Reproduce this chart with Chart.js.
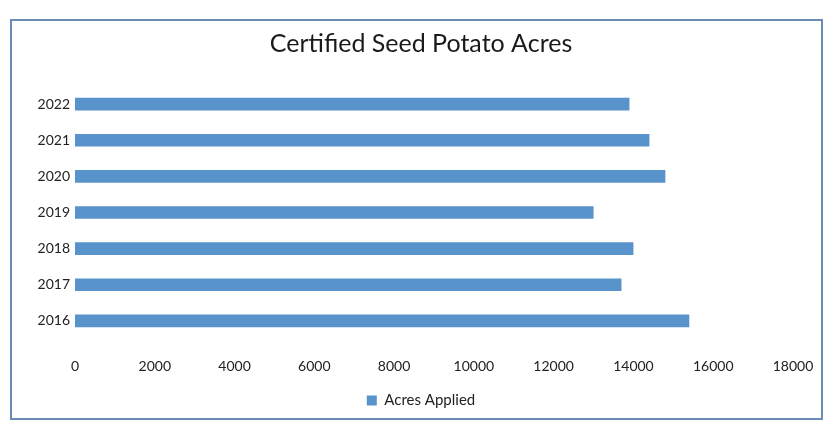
<!DOCTYPE html>
<html>
<head>
<meta charset="utf-8">
<script src="https://cdn.jsdelivr.net/npm/chart.js@4"></script>
<style>
  body { margin: 0; background: #fff; }
  #wrap { position: relative; width: 832px; height: 427px; }
  #frame { position: absolute; left: 10px; top: 19px; width: 813px; height: 401px;
           border: 2px solid #6a8db8; box-sizing: border-box; pointer-events: none; }
</style>
</head>
<body>
<div id="wrap">
  <canvas id="myChart" width="832" height="427"></canvas>
  <div id="frame"></div>
</div>
<script>
const years = ['2016', '2017', '2018', '2019', '2020', '2021', '2022'];
const acresApplied = [15400, 13700, 14000, 13000, 14800, 14400, 13900];
const xTicks = [0, 2000, 4000, 6000, 8000, 10000, 12000, 14000, 16000, 18000];

const ctx = document.getElementById('myChart');

new Chart(ctx, {
  type: 'bar',
  data: {
    labels: years,
    datasets: [{
      label: 'Acres Applied',
      data: acresApplied,
      backgroundColor: '#5893cc',
      barPercentage: 0.35,
      categoryPercentage: 1
    }]
  },
  options: {
    indexAxis: 'y',
    responsive: false,
    animation: false,
    layout: { padding: { left: 15, right: 5, bottom: 9 } },
    plugins: {
      title: {
        display: true,
        text: 'Certified Seed Potato Acres',
        color: '#1a1a1a',
        font: { family: 'Lato', size: 25, weight: 'normal' },
        padding: { top: 29, bottom: 27 }
      },
      legend: {
        position: 'bottom',
        labels: {
          color: '#222',
          font: { family: 'Lato', size: 15 },
          boxWidth: 10, boxHeight: 10, padding: 8
        }
      },
      tooltip: { enabled: false }
    },
    scales: {
      x: {
        min: 0, max: 18000,
        afterBuildTicks: function (s) { s.ticks = xTicks.map(v => ({ value: v })); },
        afterFit: function (s) { s.height = 46; },
        grid: { display: false },
        border: { display: false },
        ticks: {
          color: '#222', padding: 11, maxRotation: 0,
          font: { family: 'Lato', size: 14 },
          callback: function (v) { return String(v); }
        }
      },
      y: {
        reverse: true,
        afterFit: function (s) { s.width = 60; },
        grid: { display: false, drawTicks: false },
        border: { display: false },
        ticks: { color: '#222', padding: 5, font: { family: 'Lato', size: 14 } }
      },
      // empty right-hand axis, only to keep room on the right
      yRight: {
        position: 'right',
        afterFit: function (s) { s.width = 34; },
        grid: { display: false, drawTicks: false },
        border: { display: false },
        ticks: { display: false }
      }
    }
  }
});
</script>
</body>
</html>
